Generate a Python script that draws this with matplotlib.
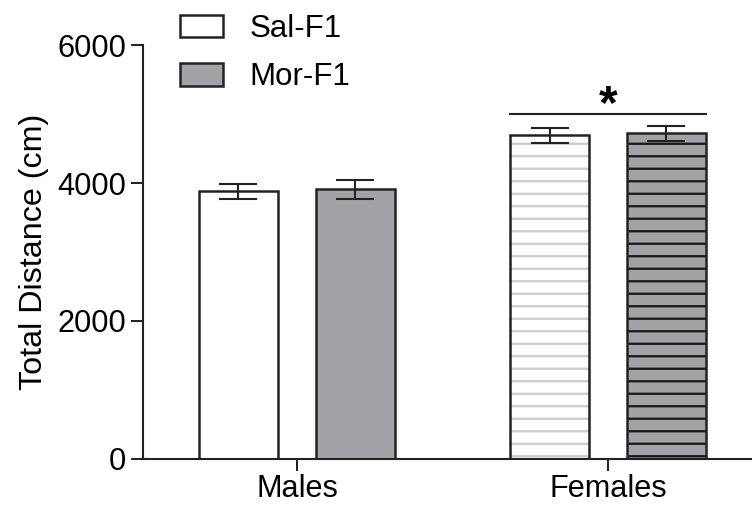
import numpy as np
import matplotlib.pyplot as plt
from matplotlib.patches import Patch

# data
groups = ['Males', 'Females']
sal_f1 = [3880, 4690]
sal_err = [110, 105]
mor_f1 = [3910, 4720]
mor_err = [140, 110]
sig_y = 5000

plt.rcParams['font.family'] = ['Liberation Sans', 'DejaVu Sans']
plt.rcParams['hatch.linewidth'] = 2.2

gray = '#a3a3a7'
fs = 29.5

fig = plt.figure(figsize=(752 / 75, 513 / 75), dpi=75)
ax = fig.add_axes([143 / 752, 54 / 513, 1 - 143 / 752, 414 / 513])

x = np.arange(len(groups))
off = 0.188
w = 0.254
ekw = dict(ecolor='#222222', elinewidth=2.0, capsize=18, capthick=2.0)

# males: plain bars
ax.bar(x[0] - off, sal_f1[0], w, color='white', edgecolor='#222222', linewidth=2.4,
       yerr=sal_err[0], error_kw=ekw, zorder=2)
ax.bar(x[0] + off, mor_f1[0], w, color=gray, edgecolor='#222222', linewidth=2.4,
       yerr=mor_err[0], error_kw=ekw, zorder=2)

# females: hatched bars (hatch drawn first, outline on top)
ax.bar(x[1] - off, sal_f1[1], w, color='white', edgecolor='#cdcdcd', linewidth=0,
       hatch='-', zorder=2)
ax.bar(x[1] + off, mor_f1[1], w, color=gray, edgecolor='#1a1a1a', linewidth=0,
       hatch='-', zorder=2)
ax.bar(x[1] - off, sal_f1[1], w, color='none', edgecolor='#222222', linewidth=2.4,
       yerr=sal_err[1], error_kw=ekw, zorder=3)
ax.bar(x[1] + off, mor_f1[1], w, color='none', edgecolor='#222222', linewidth=2.4,
       yerr=mor_err[1], error_kw=ekw, zorder=3)

# significance line + star over females
ax.plot([x[1] - off - w / 2, x[1] + off + w / 2], [sig_y, sig_y], color='#222222', lw=2.0)
ax.text(x[1], sig_y - 200, '*', ha='center', va='bottom', fontsize=46, fontweight='bold')

ax.set_ylim(0, 6000)
ax.set_xlim(-0.495, 1.463)
ax.set_yticks([0, 2000, 4000, 6000])
ax.set_xticks(x)
ax.set_xticklabels(groups)
ax.tick_params(direction='out', length=11.5, width=1.9, labelsize=fs, color='#222222')
ax.tick_params(axis='y', pad=4.5)
ax.tick_params(axis='x', pad=3)
for s in ['top', 'right']:
    ax.spines[s].set_visible(False)
for s in ['left', 'bottom']:
    ax.spines[s].set_linewidth(2.0)
    ax.spines[s].set_color('#222222')

ax.set_ylabel('Total Distance (cm)', fontsize=31)
ax.yaxis.set_label_coords(-0.155, 0.5)

# legend above the plot area
handles = [Patch(facecolor='white', edgecolor='#222222', linewidth=2.4, label='Sal-F1'),
           Patch(facecolor=gray, edgecolor='#222222', linewidth=2.4, label='Mor-F1')]
fig.legend(handles=handles, loc='upper left', bbox_to_anchor=(180 / 752, 1 - 14 / 513),
           frameon=False, fontsize=30, handlelength=1.38, handleheight=0.74,
           handletextpad=0.85, labelspacing=0.59, borderpad=0, borderaxespad=0)

fig.savefig('out.png', dpi=75)
